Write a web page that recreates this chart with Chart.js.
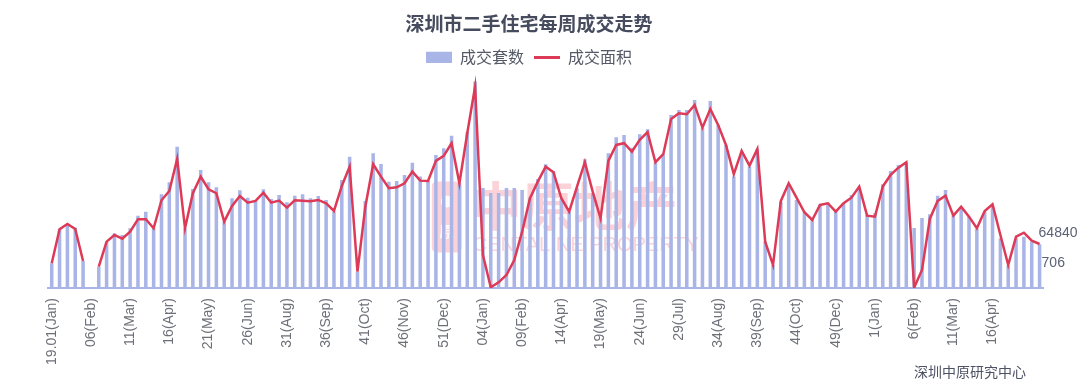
<!DOCTYPE html>
<html lang="zh-CN">
<head>
<meta charset="utf-8">
<title>深圳市二手住宅每周成交走势</title>
<script src="https://cdn.jsdelivr.net/npm/chart.js@4.4.1/dist/chart.umd.min.js"></script>
<style>
  html, body { margin: 0; padding: 0; background: #fff; }
  #wrap { width: 1080px; height: 387px; }
</style>
</head>
<body>
<div id="wrap"><canvas id="grafico" width="1080" height="387"></canvas></div>
<script>
// etiquetas visibles del eje x (una cada 5 semanas)
const tickLabels = ['19.01(Jan)', '06(Feb)', '11(Mar)', '16(Apr)', '21(May)', '26(Jun)', '31(Aug)', '36(Sep)',
  '41(Oct)', '46(Nov)', '51(Dec)', '04(Jan)', '09(Feb)', '14(Apr)', '19(May)', '24(Jun)', '29(Jul)',
  '34(Aug)', '39(Sep)', '44(Oct)', '49(Dec)', '1(Jan)', '6(Feb)', '11(Mar)', '16(Apr)'];

// semanas por año
const years = [['2019', 52], ['2020', 53], ['2021', 22]];

// 成交套数
const units = [399, 953, 1034, 974, 436, null, 344, 748, 884, 856,
  965, 1168, 1233, 965, 1514, 1708, 2283, 965, 1600, 1907,
  1708, 1627, 1071, 1450, 1579, 1459, 1406, 1595, 1438, 1503,
  1385, 1492, 1514, 1450, 1487, 1422, 1233, 1745, 2122, 263,
  1406, 2177, 2004, 1718, 1729, 1826, 2025, 1799, 1729, 2149,
  2258, 2461, 1692, 2521, 3334, 1616, 1535, 1535, 1616, 1616,
  1584, 1450, 1761, 1999, 1891, 1438, 1233, 1611, 2080, 1530,
  1126, 2177, 2435, 2472, 2267, 2484, 2565, 2031, 2161, 2796,
  2876, 2876, 3038, 2590, 3022, 2634, 2311, 1799, 2161, 1960,
  2246, 748, 372, 1395, 1664, 1422, 1233, 1115, 1353, 1378,
  1233, 1369, 1503, 1611, 1180, 1207, 1676, 1891, 1988, 2031,
  970, 1131, 1191, 1492, 1584, 1180, 1288, 1152, 953, 1233,
  1314, 803, 360, 803, 829, 748, 706];

// 成交面积 (m²)
const area = [36410, 86520, 94340, 86970, 39800, null, 31400, 68250, 78120, 72670,
  82990, 101260, 101260, 88000, 129270, 142980, 190150, 88000, 139590, 164060,
  145480, 139590, 97730, 120870, 135610, 125730, 128240, 140470, 125730, 128680,
  118360, 129270, 128680, 127800, 129710, 124850, 113500, 150350, 178800, 24030,
  119840, 182330, 164060, 146960, 148430, 154330, 171430, 158160, 157720, 187200,
  194570, 213290, 154330, 228030, 296720, 48640, 1030, 8400, 19160, 41270,
  82990, 132220, 156690, 178800, 170540, 132220, 112470, 149320, 185280, 141950,
  102740, 187200, 210780, 213290, 200910, 218150, 229500, 185280, 197070, 249110,
  257510, 256030, 269740, 236280, 263850, 240260, 210780, 167590, 201940, 180270,
  204890, 68250, 33900, 128240, 154330, 133100, 111580, 100230, 122340, 124850,
  112470, 124850, 133100, 149320, 106570, 105100, 149320, 166560, 177320, 185280,
  440, 26530, 101710, 128240, 136050, 106570, 119840, 105100, 88000, 113500,
  123370, 78120, 33900, 75610, 81510, 69720, 64840];

const AZUL = '#a9b5e6';
const ROJO = '#dd3a57';
const GRIS = '#6e7079';

const categorias = [];
years.forEach(([y, n]) => {
  for (let w = 1; w <= n; w++) categorias.push(y + '-W' + w);
});

Chart.defaults.font.family = "'Liberation Sans', 'Noto Sans CJK SC', sans-serif";

// marca de agua, etiquetas finales y fuente
const extras = {
  id: 'extras',
  beforeDatasetsDraw(chart) {
    const { ctx, chartArea: a } = chart;
    const x0 = a.left + 384, y0 = a.top + 106;
    ctx.save();
    ctx.fillStyle = 'rgba(238, 105, 122, 0.3)';
    ctx.beginPath();
    ctx.roundRect(x0, y0, 30, 71, 5);
    ctx.fill();
    ctx.fillStyle = 'rgba(255,255,255,0.9)';
    ctx.beginPath();
    ctx.arc(x0 + 15, y0 + 20, 6, 0, Math.PI * 2);
    ctx.fill();
    ctx.font = "bold 15px 'Noto Sans CJK SC'";
    ctx.textAlign = 'center';
    ctx.textBaseline = 'middle';
    ctx.fillText('原', x0 + 15, y0 + 50);
    ctx.fillStyle = 'rgba(238, 105, 122, 0.3)';
    ctx.font = "bold 52px 'Noto Sans CJK SC'";
    ctx.textAlign = 'left';
    ctx.fillText('中原地产', x0 + 38, y0 + 25);
    ctx.font = "20px 'Liberation Sans'";
    ctx.fillText('CENTALINE PROPERTY', x0 + 41, y0 + 64);
    ctx.restore();
  },
  afterDatasetsDraw(chart) {
    const { ctx } = chart;
    const last = units.length - 1;
    const b = chart.getDatasetMeta(0).data[last];
    const p = chart.getDatasetMeta(1).data[last];
    ctx.save();
    ctx.fillStyle = '#5b6275';
    ctx.textAlign = 'left';
    ctx.textBaseline = 'middle';
    ctx.font = "14px 'Liberation Sans'";
    ctx.fillText(String(area[last]), p.x - 1, p.y - 11);
    ctx.fillText(String(units[last]), b.x + 2, b.y + 19);
    ctx.restore();
  },
  afterDraw(chart) {
    const { ctx } = chart;
    ctx.save();
    ctx.fillStyle = '#4d5264';
    ctx.font = "14px 'Noto Sans CJK SC'";
    ctx.textAlign = 'right';
    ctx.textBaseline = 'middle';
    ctx.fillText('深圳中原研究中心', chart.width - 54, chart.height - 15);
    ctx.restore();
  }
};

new Chart(document.getElementById('grafico'), {
  data: {
    labels: categorias,
    datasets: [
      {
        type: 'bar',
        label: '成交套数',
        data: units,
        backgroundColor: AZUL,
        barPercentage: 0.45,
        categoryPercentage: 1,
        yAxisID: 'y',
        order: 2
      },
      {
        type: 'line',
        label: '成交面积',
        data: area,
        borderColor: ROJO,
        borderWidth: 2.5,
        pointRadius: 0,
        tension: 0,
        spanGaps: false,
        yAxisID: 'y2',
        order: 1
      }
    ]
  },
  options: {
    responsive: false,
    animation: false,
    layout: { padding: { left: 14.5, right: 36.5, top: 0, bottom: 0 } },
    plugins: {
      title: {
        display: true,
        text: '深圳市二手住宅每周成交走势',
        color: '#464c5e',
        font: { size: 19, weight: 'bold', family: "'Noto Sans CJK SC', sans-serif" },
        padding: { top: 12.6, bottom: 4 }
      },
      legend: {
        labels: {
          color: '#555a66',
          font: { size: 16, family: "'Noto Sans CJK SC', sans-serif" },
          usePointStyle: true,
          pointStyleWidth: 26,
          boxHeight: 11.3,
          padding: 10,
          generateLabels: chart => chart.data.datasets.map((ds, i) => ({
            text: ds.label,
            fillStyle: ds.type === 'bar' ? AZUL : ROJO,
            strokeStyle: ds.type === 'bar' ? AZUL : ROJO,
            lineWidth: ds.type === 'bar' ? 0 : 3,
            pointStyle: ds.type === 'bar' ? 'rect' : 'line',
            fontColor: '#555a66',
            hidden: !chart.isDatasetVisible(i),
            datasetIndex: i
          }))
        }
      },
      tooltip: { enabled: false }
    },
    scales: {
      x: {
        grid: { display: false, drawTicks: false },
        border: { display: true, color: AZUL, width: 2, dash: [2, 2] },
        ticks: {
          color: GRIS,
          font: { size: 14 },
          autoSkip: false,
          minRotation: 90,
          maxRotation: 90,
          padding: 10,
          callback: (v, i) => (i % 5 === 0 ? tickLabels[i / 5] : '')
        },
        afterFit: s => { s.height = 99; }
      },
      // eje izquierdo invisible: solo reserva espacio
      y: {
        display: true,
        min: 0,
        max: 3434,
        grid: { display: false, drawTicks: false },
        border: { display: false },
        ticks: { display: false },
        afterFit: s => { s.width = 33.3; }
      },
      y2: { display: false, position: 'right', min: 0, max: 313200 }
    }
  },
  plugins: [extras]
});
</script>
</body>
</html>
